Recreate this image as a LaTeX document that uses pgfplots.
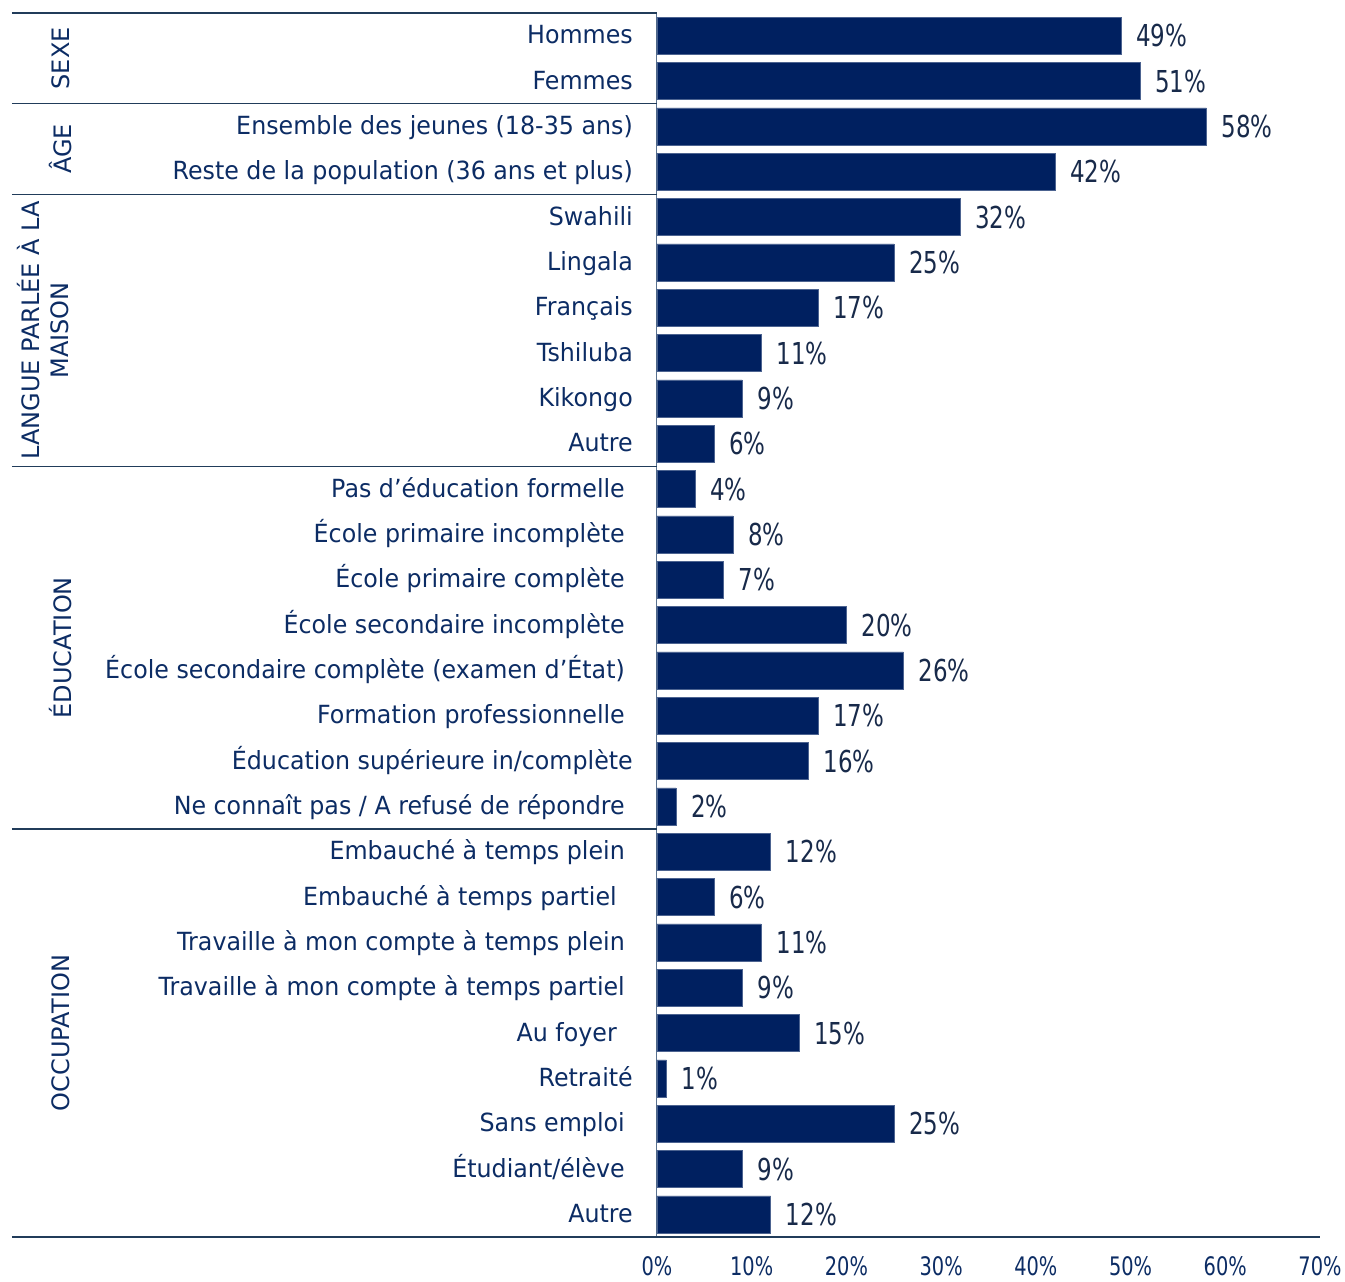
\documentclass[border=0pt]{standalone}
\usepackage{pgfplots}
\pgfplotsset{compat=1.18}
\usepackage{fontspec}
\setmainfont{DejaVu Sans}[FakeStretch=0.95]
\newfontfamily\numfont{DejaVu Sans}[FakeStretch=0.76]
\newfontfamily\grpfont{DejaVu Sans}
\definecolor{barcol}{HTML}{002060}
\definecolor{txtcol}{HTML}{0C2C64}
\definecolor{valcol}{HTML}{182A4A}
\definecolor{sepcol}{HTML}{213C5A}
\definecolor{vaxcol}{HTML}{5A7290}
\begin{document}
\begin{tikzpicture}
\path[use as bounding box] (0pt,0pt) rectangle (1345pt,1282pt);
\begin{axis}[
  /pgf/number format/assume math mode=true,
  at={(657pt,45pt)}, anchor=south west,
  scale only axis, width=663pt, height=1224pt,
  xbar, bar width=0.82,
  xmin=0, xmax=70, ymin=-0.5, ymax=26.5, y dir=reverse,
  axis x line*=bottom, axis y line*=left,
  x axis line style={draw=sepcol, line width=1.6pt, -},
  y axis line style={draw=vaxcol, line width=1pt, -},
  xtick={0,10,...,70}, major tick length=0pt,
  xticklabel={\pgfmathprintnumber{\tick}\%},
  xticklabel style={anchor=base, inner sep=0pt, yshift=-38.5pt, text=txtcol,
    font=\numfont\fontsize{25.5}{26}\selectfont},
  ytick={0,...,26},
  yticklabels={Hommes, Femmes, Ensemble des jeunes (18-35 ans), Reste de la population (36 ans et plus),
    Swahili, Lingala, Français, Tshiluba, Kikongo, Autre,
    Pas d’éducation formelle\hspace*{8pt}, École primaire incomplète\hspace*{8pt}, École primaire complète\hspace*{8pt},
    École secondaire incomplète\hspace*{8pt}, École secondaire complète (examen d’État)\hspace*{8pt},
    Formation professionnelle\hspace*{8pt}, Éducation supérieure in/complète,
    Ne connaît pas / A refusé de répondre\hspace*{8pt},
    Embauché à temps plein\hspace*{8pt}, Embauché à temps partiel\hspace*{16pt},
    Travaille à mon compte à temps plein\hspace*{8pt}, Travaille à mon compte à temps partiel\hspace*{8pt},
    Au foyer\hspace*{16pt}, Retraité, Sans emploi\hspace*{8pt}, Étudiant/élève\hspace*{8pt}, Autre},
  yticklabel style={anchor=base east, inner sep=0pt, xshift=-24pt, yshift=-8pt, text=txtcol,
    font=\fontsize{25}{26}\selectfont},
  nodes near coords={\pgfmathprintnumber{\pgfplotspointmeta}\%},
  nodes near coords style={anchor=base west, inner sep=0pt, xshift=15pt, yshift=-11pt, text=valcol,
    font=\numfont\fontsize{30.2}{30}\selectfont},
  clip=false,
]
\addplot[fill=barcol, draw=barcol!70!white, line width=0.5pt] coordinates {
  (49,0) (51,1) (58,2) (42,3)
  (32,4) (25,5) (17,6) (11,7) (9,8) (6,9)
  (4,10) (8,11) (7,12) (20,13) (26,14) (17,15) (16,16) (2,17)
  (12,18) (6,19) (11,20) (9,21) (15,22) (1,23) (25,24) (9,25) (12,26)
};
\draw[sepcol, line width=1.6pt] (axis cs:-68.1,-0.5) -- (axis cs:0,-0.5);
\draw[sepcol, line width=1.6pt] (axis cs:-68.1,1.5) -- (axis cs:0,1.5);
\draw[sepcol, line width=1.6pt] (axis cs:-68.1,3.5) -- (axis cs:0,3.5);
\draw[sepcol, line width=1.6pt] (axis cs:-68.1,9.5) -- (axis cs:0,9.5);
\draw[sepcol, line width=1.6pt] (axis cs:-68.1,17.5) -- (axis cs:0,17.5);
\draw[sepcol, line width=1.6pt] (axis cs:-68.1,26.5) -- (axis cs:0,26.5);
\node[rotate=90, text=txtcol, font=\grpfont\fontsize{24}{29.5}\selectfont, inner sep=0pt] at (axis cs:-63.0,0.5) {SEXE};
\node[rotate=90, text=txtcol, font=\grpfont\fontsize{24}{29.5}\selectfont, inner sep=0pt] at (axis cs:-63.0,2.5) {ÂGE};
\node[rotate=90, text=txtcol, font=\grpfont\fontsize{24}{29.5}\selectfont, inner sep=0pt, align=center] at (axis cs:-64.8,6.5) {LANGUE PARLÉE À LA\\MAISON};
\node[rotate=90, text=txtcol, font=\grpfont\fontsize{24}{29.5}\selectfont, inner sep=0pt] at (axis cs:-63.0,13.5) {ÉDUCATION};
\node[rotate=90, text=txtcol, font=\grpfont\fontsize{24}{29.5}\selectfont, inner sep=0pt] at (axis cs:-63.0,22) {OCCUPATION};
\end{axis}
\end{tikzpicture}
\end{document}
